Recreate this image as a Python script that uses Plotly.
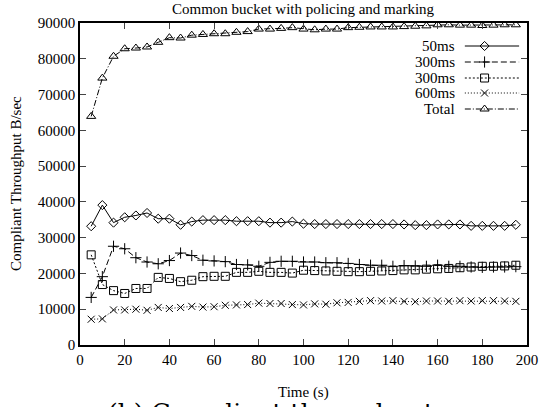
import plotly.graph_objects as go

time_s = [5, 10, 15, 20, 25, 30, 35, 40, 45, 50, 55, 60, 65, 70, 75, 80, 85, 90, 95, 100,
          105, 110, 115, 120, 125, 130, 135, 140, 145, 150, 155, 160, 165, 170, 175, 180, 185, 190, 195]

ms50 = [33200, 39100, 34200, 35700, 36200, 36900, 35300, 35300, 33600, 34500, 34900, 34900, 34900,
        34600, 34600, 34600, 34200, 34200, 34500, 33900, 33800, 33800, 33800, 33800, 33800, 33800,
        33800, 33800, 33700, 33500, 33500, 33700, 33700, 33700, 33300, 33300, 33300, 33300, 33600]

ms300a = [13300, 19100, 27600, 26900, 24400, 23200, 22700, 23600, 25700, 25000, 23700, 23500, 23300,
          22500, 22400, 22000, 23100, 23400, 23400, 23200, 23200, 23000, 23000, 22800, 22500, 22300,
          22300, 22000, 22200, 22100, 22000, 22300, 22000, 22000, 21800, 21700, 21800, 21800, 21900]

ms300b = [25200, 16900, 15200, 14400, 15800, 15800, 18900, 18600, 17700, 18100, 19100, 19200, 19200,
          20300, 20300, 20600, 20300, 20300, 20100, 20900, 20800, 20700, 20600, 20500, 20500, 20600,
          20700, 20800, 21000, 21000, 21200, 21300, 21400, 21600, 21800, 22000, 22000, 22100, 22300]

ms600 = [7200, 7300, 9800, 9800, 10000, 9700, 10500, 10200, 10500, 10800, 10600, 10700, 11100,
         11200, 11300, 11700, 11600, 11600, 11300, 11200, 11500, 11400, 11800, 11900, 12200, 12400,
         12300, 12400, 12200, 12100, 12300, 12300, 12200, 12400, 12300, 12400, 12400, 12300, 12200]

total = [63900, 74600, 80700, 82800, 83000, 83300, 84600, 85900, 85800, 86600, 86800, 87000, 87000,
         87400, 87600, 88300, 88300, 88500, 88700, 88300, 88100, 88300, 88300, 88700, 88800, 88900,
         88900, 88900, 89000, 89100, 89200, 89500, 89500, 89400, 89400, 89300, 89400, 89500, 89500]

series_names = ["50ms", "300ms", "300ms", "600ms", "Total"]
series_vals = [ms50, ms300a, ms300b, ms600, total]
symbols = ["diamond-open", "cross-thin-open", "square-open", "x-thin-open", "triangle-up-open"]
sizes = [7, 8, 8, 7, 8]
dashes = ["solid", "6px,3px", "2px,2px", "1px,2px", "6px,2px,1px,2px"]

FONT = "Liberation Serif"
L, R, T, B = 80, 17, 23, 62
W, H = 550, 407

fig = go.Figure()
for name, vals, sym, sz, dsh in zip(series_names, series_vals, symbols, sizes, dashes):
    fig.add_trace(go.Scatter(
        x=time_s, y=vals, mode="lines+markers", name=name, showlegend=False,
        line=dict(color="black", width=1, dash=dsh),
        marker=dict(symbol=sym, size=sz, color="black", line=dict(color="black", width=1)),
    ))

# manual gnuplot-style key (text, then sample) in pixel coordinates on a hidden axis
key_rows = [46, 62, 78, 93, 109]
for name, sym, sz, dsh, ky in zip(series_names, symbols, sizes, dashes, key_rows):
    fig.add_trace(go.Scatter(
        x=[470, 497, 525], y=[ky, ky, ky], xaxis="x2", yaxis="y2",
        mode="lines", showlegend=False, hoverinfo="skip",
        line=dict(color="black", width=1, dash=dsh),
    ))
    fig.add_trace(go.Scatter(
        x=[490], y=[ky], xaxis="x2", yaxis="y2", mode="markers", showlegend=False,
        hoverinfo="skip",
        marker=dict(symbol=sym, size=sz, color="black", line=dict(color="black", width=1)),
    ))
    fig.add_annotation(x=462, y=ky, xref="x2", yref="y2", text=name, showarrow=False,
                       xanchor="right", yanchor="middle",
                       font=dict(family=FONT, size=15, color="black"))

fig.update_layout(
    width=W, height=H,
    margin=dict(l=L, r=R, t=T, b=B),
    paper_bgcolor="white", plot_bgcolor="white",
    font=dict(family=FONT, size=15, color="black"),
    xaxis=dict(range=[0, 200], dtick=20, ticks="inside", ticklen=6, tickwidth=1,
               showline=True, linecolor="black", linewidth=1.5, mirror="ticks",
               showgrid=False, zeroline=False,
               tickfont=dict(family=FONT, size=15, color="black")),
    yaxis=dict(range=[0, 90000], dtick=10000, tickformat="d", ticks="inside", ticklen=6,
               tickwidth=1, showline=True, linecolor="black", linewidth=1.5, mirror="ticks",
               showgrid=False, zeroline=False,
               tickfont=dict(family=FONT, size=15, color="black")),
    xaxis2=dict(range=[L, W - R], overlaying="x", visible=False, fixedrange=True),
    yaxis2=dict(range=[H - B, T], overlaying="y", visible=False, fixedrange=True),
)

fig.add_annotation(x=0.5, y=1, xref="paper", yref="paper", yshift=4,
                   text="Common bucket with policing and marking", showarrow=False,
                   xanchor="center", yanchor="bottom",
                   font=dict(family=FONT, size=15, color="black"))
fig.add_annotation(x=0, y=0.5, xref="paper", yref="paper", xshift=-64,
                   text="Compliant Throughput B/sec", showarrow=False, textangle=-90,
                   xanchor="center", yanchor="middle",
                   font=dict(family=FONT, size=15, color="black"))
fig.add_annotation(x=0.5, y=0, xref="paper", yref="paper", yshift=-47,
                   text="Time (s)", showarrow=False, xanchor="center", yanchor="middle",
                   font=dict(family=FONT, size=15, color="black"))
fig.add_annotation(x=0.058, y=0, xref="paper", yref="paper", yshift=-67,
                   text="(b) Compliant throughput", showarrow=False, xanchor="left",
                   yanchor="middle",
                   font=dict(family="DejaVu Serif", size=25, color="black"))

fig.write_html("out.html")
